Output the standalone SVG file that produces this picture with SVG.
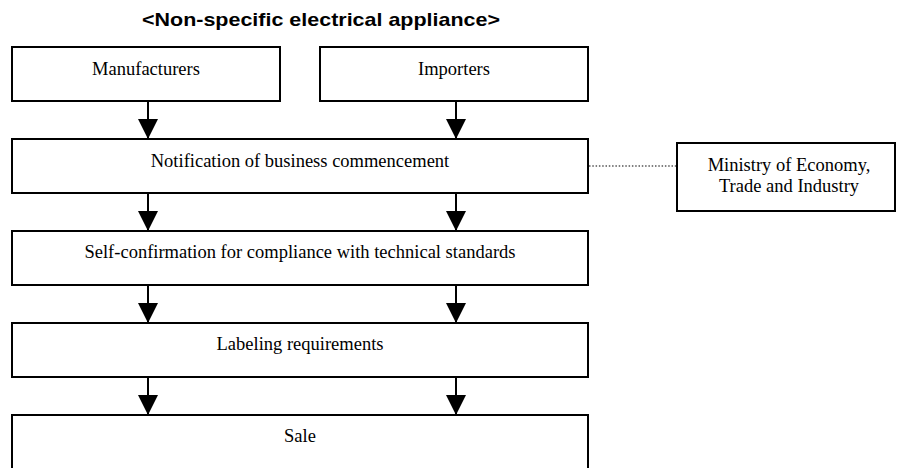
<svg xmlns="http://www.w3.org/2000/svg" width="898" height="468" viewBox="0 0 898 468">
<style>
.box{fill:#fff;stroke:#000;stroke-width:2}
.t{font-family:"Liberation Serif","Times New Roman",serif;font-size:18.5px;fill:#000;text-anchor:middle}
.title{font-family:"Liberation Sans",Arial,sans-serif;font-weight:bold;font-size:18.5px;fill:#000;text-anchor:middle}
.arr{stroke:#000;stroke-width:2;fill:none;marker-end:url(#ah)}
.dot{stroke:#000;stroke-width:1.2;stroke-dasharray:1.5 1.8;fill:none}
</style>
<defs>
<marker id="ah" markerUnits="userSpaceOnUse" markerWidth="20" markerHeight="20" refX="20" refY="10" orient="auto">
<path d="M0,0 L20,10 L0,20 z" fill="#000"/>
</marker>
</defs>
<rect width="898" height="468" fill="#fff"/>
<text class="title" x="321" y="26" textLength="358" lengthAdjust="spacingAndGlyphs">&lt;Non-specific electrical appliance&gt;</text>
<g id="connectors">
<line class="arr" x1="148" y1="101" x2="148" y2="139"/>
<line class="arr" x1="456" y1="101" x2="456" y2="139"/>
<line class="arr" x1="148" y1="193" x2="148" y2="231"/>
<line class="arr" x1="456" y1="193" x2="456" y2="231"/>
<line class="arr" x1="148" y1="285" x2="148" y2="323"/>
<line class="arr" x1="456" y1="285" x2="456" y2="323"/>
<line class="arr" x1="148" y1="377" x2="148" y2="415"/>
<line class="arr" x1="456" y1="377" x2="456" y2="415"/>
<line class="dot" x1="589" y1="166" x2="676" y2="166"/>
</g>
<g id="manufacturers">
<rect class="box" x="12" y="47" width="268" height="54"/>
<text class="t" x="146" y="75">Manufacturers</text>
</g>
<g id="importers">
<rect class="box" x="320" y="47" width="268" height="54"/>
<text class="t" x="454" y="75">Importers</text>
</g>
<g id="notification">
<rect class="box" x="12" y="139" width="576" height="54"/>
<text class="t" x="300" y="167">Notification of business commencement</text>
</g>
<g id="ministry">
<rect class="box" x="677" y="143" width="218" height="68"/>
<text class="t" x="789" y="171">Ministry of Economy,</text>
<text class="t" x="789" y="192">Trade and Industry</text>
</g>
<g id="selfconfirmation">
<rect class="box" x="12" y="231" width="576" height="54"/>
<text class="t" x="300" y="258">Self-confirmation for compliance with technical standards</text>
</g>
<g id="labeling">
<rect class="box" x="12" y="323" width="576" height="54"/>
<text class="t" x="300" y="350">Labeling requirements</text>
</g>
<g id="sale">
<rect class="box" x="12" y="415" width="576" height="56"/>
<text class="t" x="300" y="442">Sale</text>
</g>
</svg>
